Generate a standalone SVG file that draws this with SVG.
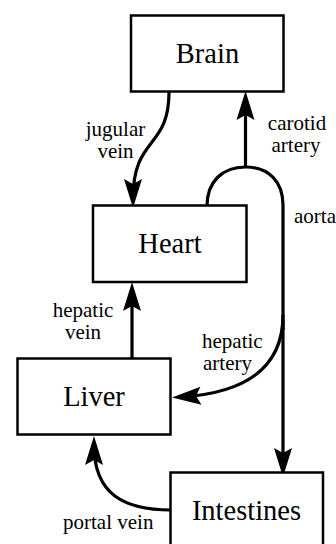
<svg xmlns="http://www.w3.org/2000/svg" width="336" height="544" viewBox="0 0 336 544">
<style>
.box{fill:#fff;stroke:#000;stroke-width:2.5}
.nt{font-family:"Liberation Serif","Times New Roman",serif;font-size:28.5px;text-anchor:middle;fill:#000}
.lb{font-family:"Liberation Serif","Times New Roman",serif;font-size:21px;fill:#000}
.c{text-anchor:middle}
.edge{fill:none;stroke:#000;stroke-width:3.2;marker-end:url(#ah)}
.plain{fill:none;stroke:#000;stroke-width:3.2}
</style>
<defs>
<marker id="ah" markerUnits="userSpaceOnUse" viewBox="-30 -15 45 30" markerWidth="45" markerHeight="30" refX="0" refY="0" orient="auto" overflow="visible">
<path d="M-20,-9 L9,0 L-20,9 L-15,0 Z" fill="#000"/>
</marker>
</defs>
<rect width="336" height="544" fill="#fff"/>
<g id="connectors">
<path class="edge" d="M169,92 C169,150 133,135 133,199"/>
<path class="plain" d="M207,206 C207,182 222,167 245.5,167 C269,167 283,182 283,205 L283,330"/>
<path class="edge" d="M245.5,167 L245.5,100"/>
<path class="edge" d="M283,320 L283,468"/>
<path class="edge" d="M283,315 C283,368 245,393 181,397"/>
<path class="edge" d="M132,358 L132,291"/>
<path class="edge" d="M171,510 C125,510 94,495 94,445"/>
<text class="lb c" x="115.5" y="136">jugular</text>
<text class="lb c" x="115.5" y="158">vein</text>
<text class="lb c" x="297" y="130">carotid</text>
<text class="lb c" x="296" y="152">artery</text>
<text class="lb" x="294" y="223">aorta</text>
<text class="lb c" x="83" y="317">hepatic</text>
<text class="lb c" x="83" y="339">vein</text>
<text class="lb" x="202" y="348">hepatic</text>
<text class="lb" x="203" y="370">artery</text>
<text class="lb" x="63" y="529">portal vein</text>
</g>
<g id="brain">
<rect class="box" x="131" y="15.5" width="152.5" height="76"/>
<text class="nt" x="207.5" y="63">Brain</text>
</g>
<g id="heart">
<rect class="box" x="93" y="205.5" width="153.5" height="76.5"/>
<text class="nt" x="170" y="253">Heart</text>
</g>
<g id="liver">
<rect class="box" x="17.5" y="358.5" width="153" height="76"/>
<text class="nt" x="94" y="406">Liver</text>
</g>
<g id="intestines">
<rect class="box" x="170.5" y="472.5" width="152.5" height="80"/>
<text class="nt" x="246.5" y="520">Intestines</text>
</g>
</svg>
